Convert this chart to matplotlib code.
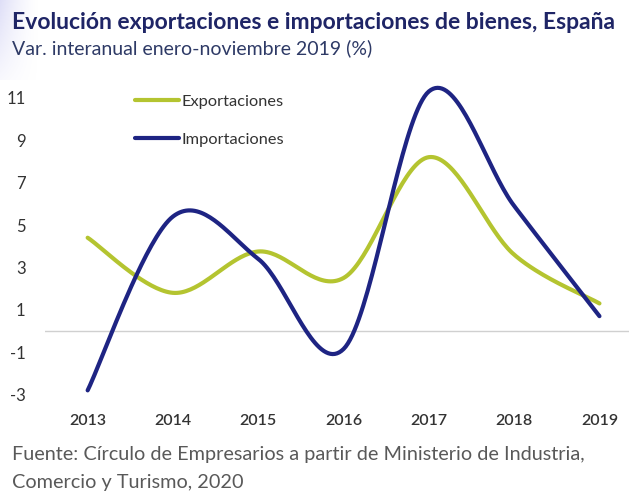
import numpy as np
import matplotlib
matplotlib.use("Agg")
import matplotlib.pyplot as plt

# datos (var. interanual, %)
years = [2013, 2014, 2015, 2016, 2017, 2018, 2019]
exportaciones = [4.4, 1.8, 3.75, 2.5, 8.2, 3.6, 1.3]
importaciones = [-2.8, 5.4, 3.4, -0.85, 11.3, 5.9, 0.7]
yticks = [-3, -1, 1, 3, 5, 7, 9, 11]

VERDE = "#b4c430"
AZUL = "#1e2483"
plt.rcParams["font.family"] = ["Lato", "DejaVu Sans"]
plt.rcParams["axes.unicode_minus"] = False


def suavizar(x, y, n=40):
    # curva suave tipo Excel (Bezier con puntos de control Catmull-Rom)
    x = np.asarray(x, float)
    y = np.asarray(y, float)
    px = np.concatenate([[x[0]], x, [x[-1]]])
    py = np.concatenate([[y[0]], y, [y[-1]]])
    xs, ys = [], []
    t = np.linspace(0, 1, n)
    for i in range(len(x) - 1):
        p0 = np.array([px[i + 1], py[i + 1]])
        p3 = np.array([px[i + 2], py[i + 2]])
        c1 = p0 + (np.array([px[i + 2], py[i + 2]]) - np.array([px[i], py[i]])) / 6
        c2 = p3 - (np.array([px[i + 3], py[i + 3]]) - np.array([px[i + 1], py[i + 1]])) / 6
        b = ((1 - t) ** 3)[:, None] * p0 + (3 * (1 - t) ** 2 * t)[:, None] * c1 \
            + (3 * (1 - t) * t ** 2)[:, None] * c2 + (t ** 3)[:, None] * p3
        xs.append(b[:, 0])
        ys.append(b[:, 1])
    return np.concatenate(xs), np.concatenate(ys)


W, H = 629, 496
fig = plt.figure(figsize=(W / 100, H / 100), dpi=100)

# franja lila en la esquina superior izquierda
bg = fig.add_axes([0, 1 - 80 / H, 40 / W, 80 / H])
grad = np.linspace(1, 0, 40)[None, :] ** 1.5 * np.linspace(1, 0.2, 80)[:, None]
rgba = np.zeros((80, 40, 4))
rgba[..., 0] = 0.82
rgba[..., 1] = 0.82
rgba[..., 2] = 0.96
rgba[..., 3] = grad * 0.7
bg.imshow(rgba, aspect="auto")
bg.axis("off")

px_unit = 21.2
y0 = 331
top, bot = 80, 400
ax = fig.add_axes([45 / W, (H - bot) / H, 1 - 45 / W, (bot - top) / H])
ax.set_ylim((y0 - bot) / px_unit, (y0 - top) / px_unit)
ax.set_xlim(2012.5, 2012.5 + (W - 45) / 85.3)

ax.axhline(0, color="#d0d0d0", linewidth=1, zorder=1)

xs, ys = suavizar(years, exportaciones)
ax.plot(xs, ys, color=VERDE, linewidth=3.0, solid_capstyle="round", label="Exportaciones", zorder=3)
xs, ys = suavizar(years, importaciones)
ax.plot(xs, ys, color=AZUL, linewidth=3.0, solid_capstyle="round", label="Importaciones", zorder=4)

for s in ax.spines.values():
    s.set_visible(False)
ax.set_yticks(yticks)
ax.set_xticks(years)
ax.tick_params(length=0, labelsize=11.5, colors="#333333")
ax.tick_params(axis="y", labelsize=12, pad=14)
ax.tick_params(axis="x", pad=10)
for lbl in ax.get_xticklabels():
    lbl.set_fontweight("semibold")

leg = ax.legend(loc="upper left", bbox_to_anchor=(0.128, 1.0), frameon=False,
                fontsize=11.8, handlelength=2.7, handletextpad=0.15, labelspacing=1.4,
                labelcolor="#333333")
for h in leg.get_lines():
    h.set_linewidth(3.0)

fig.text(12 / W, 1 - 29 / H, "Evolución exportaciones e importaciones de bienes, España",
         fontsize=16.5, fontweight="bold", color="#1f2566", ha="left", va="baseline")
fig.text(12 / W, 1 - 54 / H, "Var. interanual enero-noviembre 2019 (%)",
         fontsize=14, color="#2e3a66", ha="left", va="baseline")
fig.text(12 / W, 1 - 460 / H, "Fuente: Círculo de Empresarios a partir de Ministerio de Industria,",
         fontsize=14.3, color="#595959", ha="left", va="baseline")
fig.text(12 / W, 1 - 488 / H, "Comercio y Turismo, 2020",
         fontsize=14.3, color="#595959", ha="left", va="baseline")

fig.savefig("out.png", dpi=100)
